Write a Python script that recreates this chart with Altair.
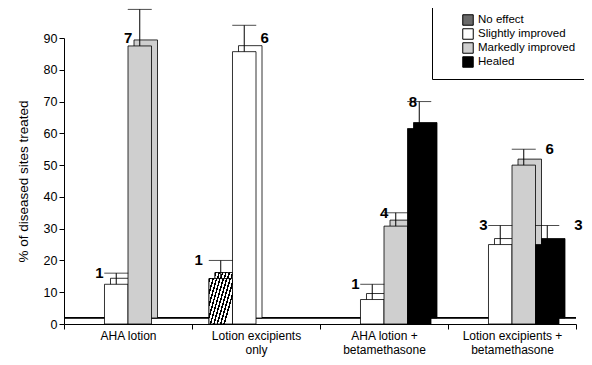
import altair as alt
import pandas as pd

categories = ["AHA lotion", "Lotion excipients\nonly", "AHA lotion +\nbetamethasone", "Lotion excipients +\nbetamethasone"]
series = ["No effect", "Slightly improved", "Markedly improved", "Healed"]
series_colors = ["#6a6a6a", "white", "#cfcfcf", "black"]

bar_category = [categories[0], categories[0], categories[1], categories[1],
                categories[2], categories[2], categories[2],
                categories[3], categories[3], categories[3]]
bar_series = ["Slightly improved", "Markedly improved", "No effect", "Slightly improved",
              "Slightly improved", "Markedly improved", "Healed",
              "Slightly improved", "Markedly improved", "Healed"]
bar_value = [12.5, 87.5, 14.3, 85.7, 7.7, 30.8, 61.5, 25.0, 50.0, 25.0]
bar_err_top = [16, 99, 20, 94, 12.5, 35, 70, 31, 55, 31]
bar_n = [1, 7, 1, 6, 1, 4, 8, 3, 6, 3]
label_side = ["left", "left", "left", "right", "left", "left", "left", "left", "right", "right"]

df = pd.DataFrame({
    "category": bar_category, "series": bar_series, "value": bar_value,
    "err_top": bar_err_top, "n": bar_n, "side": label_side,
})

# diagonal hatch fill via hard-stop gradient
stops = []
N = 9
for k in range(N):
    a, b, c = k / N, (k + 0.45) / N, (k + 1) / N
    stops += [{"offset": a, "color": "black"}, {"offset": b, "color": "black"},
              {"offset": b, "color": "white"}, {"offset": c, "color": "white"}]
hatch = {"gradient": "linear", "x1": 0, "y1": 0, "x2": 1, "y2": 0.55, "stops": stops}

FONT = "Liberation Sans"
W = 512
H = 286
D = 6  # 3D depth offset
PO = 0.7234

x_enc = alt.X("category:N", sort=categories,
              scale=alt.Scale(domain=categories, paddingInner=0, paddingOuter=0),
              axis=alt.Axis(title=None, labelAngle=0, tickBand="extent", tickSize=5,
                            labelExpr="split(datum.label, '\\n')", labelFontSize=12,
                            labelFont=FONT, labelColor="black", domainColor="black",
                            tickColor="black", labelPadding=1, labelLineHeight=14))
xo_front = alt.XOffset("series:N", scale=alt.Scale(domain=series, paddingInner=0, paddingOuter=PO))
xo_shadow = alt.XOffset("series:N", scale=alt.Scale(domain=series, paddingInner=0, paddingOuter=PO,
                                                    range=[D, W / 4 + D]))
y_scale = alt.Scale(domain=[0, 90], nice=False)
y_axis = alt.Axis(values=list(range(0, 91, 10)), tickSize=5, grid=False,
                  title="% of diseased sites treated", titleFont=FONT, titleFontSize=13.5,
                  titleFontWeight="normal", titleColor="black", titlePadding=13,
                  labelFont=FONT, labelFontSize=12.5, labelColor="black",
                  domainColor="black", tickColor="black")
color_scale = alt.Scale(domain=series, range=series_colors)
legend = alt.Legend(title=None, orient="none", legendX=368, legendY=-33,
                    symbolType="square", symbolSize=110,
                    symbolStrokeColor="black", symbolStrokeWidth=1,
                    labelFont=FONT, labelFontSize=11.5, labelColor="black",
                    strokeColor="black", fillColor="white",
                    padding=9, symbolOffset=21, rowPadding=-3,
                    labelExpr="datum.label == 'Markedly improved' ? datum.label + '\u00a0\u00a0\u00a0\u00a0\u00a0\u00a0' : datum.label")
color_enc = alt.Color("series:N", scale=color_scale, sort=series, legend=legend)

def Y(field):
    return alt.Y(field, scale=y_scale, axis=y_axis)

front_base = alt.Chart(df).encode(x=x_enc, xOffset=xo_front)
shadow_base = alt.Chart(df).encode(x=x_enc, xOffset=xo_shadow)

floor = alt.Chart(df).mark_rule(color="black", strokeWidth=1).encode(
    y=alt.YDatum(2, scale=y_scale, axis=y_axis))

shadow = shadow_base.mark_bar(stroke="black", strokeWidth=0.8,
                              yOffset=-D, y2Offset=-D).encode(
    y=Y("value:Q"), color=color_enc)
hatch_shadow = shadow_base.transform_filter(alt.datum.series == "No effect").mark_bar(
    stroke="black", strokeWidth=0.8, fill=hatch, yOffset=-D, y2Offset=-D).encode(y=Y("value:Q"))

front = front_base.mark_bar(stroke="black", strokeWidth=0.8).encode(
    y=Y("value:Q"), color=color_enc)
hatch_front = front_base.transform_filter(alt.datum.series == "No effect").mark_bar(
    stroke="black", strokeWidth=0.8, fill=hatch).encode(y=Y("value:Q"))

err_rule = front_base.mark_rule(color="black", strokeWidth=1, xOffset=3).encode(
    y=Y("value:Q"), y2="err_top:Q")
err_cap = front_base.mark_tick(color="black", thickness=1, size=24, xOffset=3).encode(
    y=Y("err_top:Q"))

lab_left = front_base.transform_filter(alt.datum.side == "left").transform_calculate(
    ly="min(datum.err_top, 90)").mark_text(
    align="right", baseline="middle", dx=-10, font=FONT, fontSize=15,
    fontWeight="bold", color="black").encode(y=Y("ly:Q"), text="n:Q")
lab_right = front_base.transform_filter(alt.datum.side == "right").transform_calculate(
    ly="min(datum.err_top, 90)").mark_text(
    align="left", baseline="middle", dx=19, font=FONT, fontSize=15,
    fontWeight="bold", color="black").encode(y=Y("ly:Q"), text="n:Q")

chart = alt.layer(floor, shadow, hatch_shadow, front, hatch_front, err_rule, err_cap,
                  lab_left, lab_right).resolve_scale(xOffset="independent").properties(
    width=W, height=H,
    autosize=alt.AutoSizeParams(type="none"),
    padding={"left": 56, "top": 30, "right": 8, "bottom": 33},
    background="white",
).configure_view(stroke=None)

chart.save("out.html", embed_options={"renderer": "svg", "actions": False})
